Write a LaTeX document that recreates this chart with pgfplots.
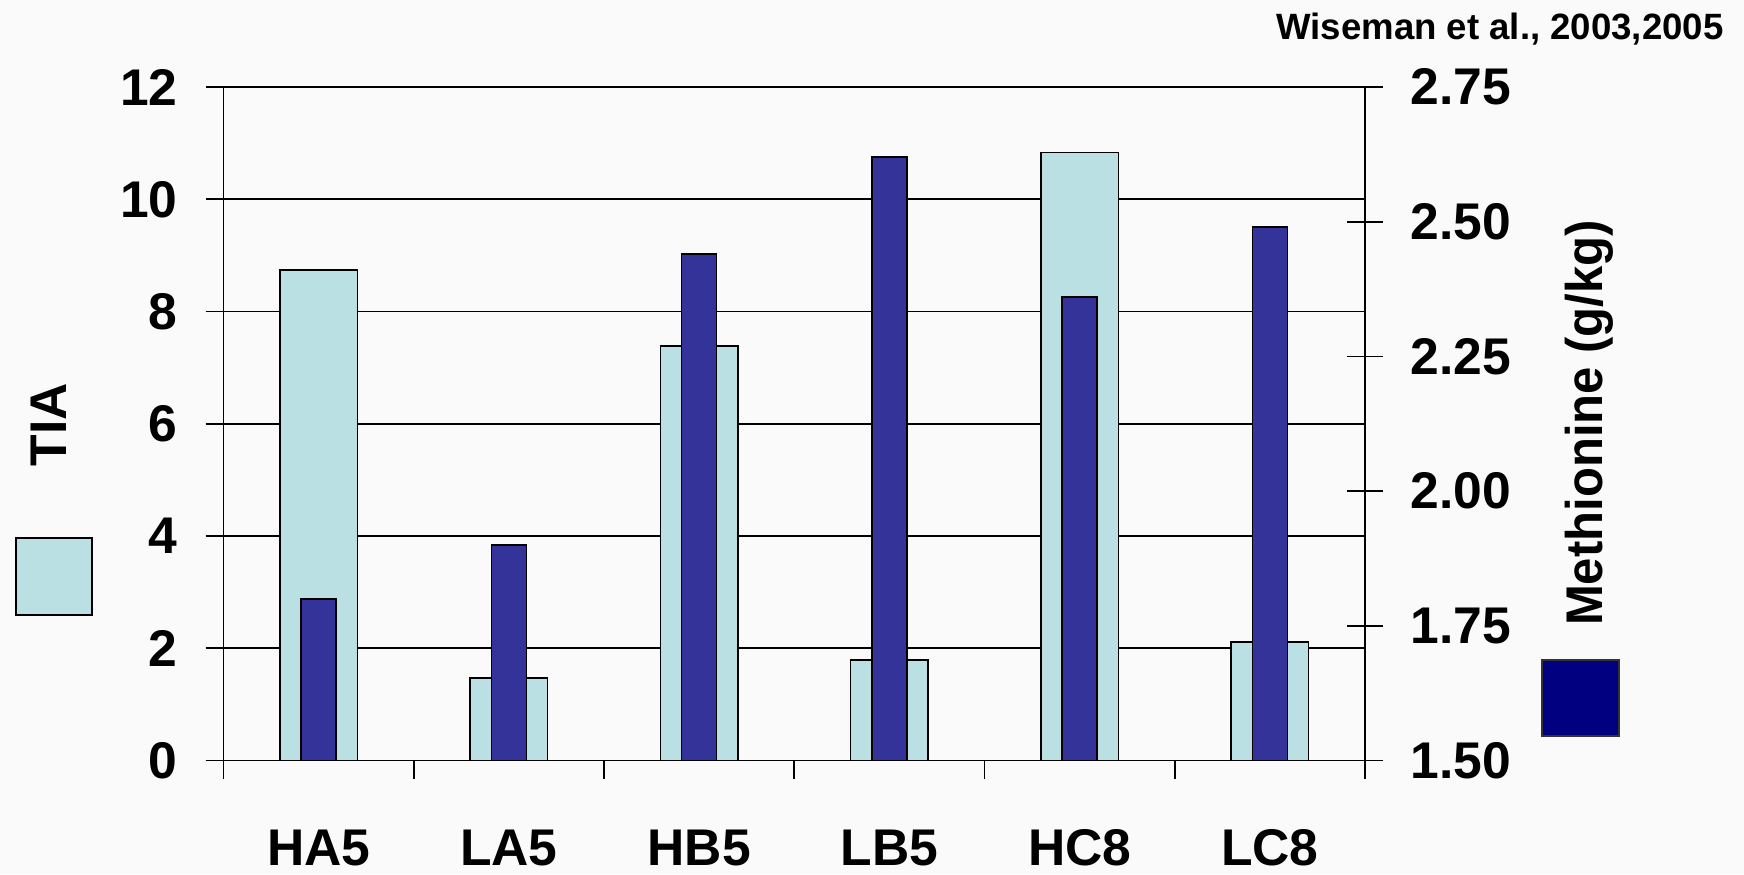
\documentclass[border=0pt]{standalone}
\usepackage{fontspec}
\setmainfont{Liberation Sans}
\usepackage{pgfplots}
\pgfplotsset{compat=1.18}
\definecolor{bg}{RGB}{250,250,250}
\definecolor{lightbar}{RGB}{187,224,227}
\definecolor{darkbar}{RGB}{51,51,153}
\definecolor{navybox}{RGB}{0,0,128}
\newcommand{\bigfont}{\fontsize{25.8}{30}\selectfont\bfseries}
\begin{document}
\begin{tikzpicture}
\path[fill=bg, use as bounding box] (-111.75pt,-56.75pt) rectangle (760.25pt,380.25pt);
\begin{axis}[
  at={(0pt,0pt)}, anchor=south west,
  scale only axis, width=570.75pt, height=336.75pt,
  xmin=-0.5, xmax=5.5, ymin=0, ymax=12,
  axis x line*=bottom, axis y line*=left,
  ybar, bar width=38.75pt, bar shift=0pt,
  ytick={0,2,4,6,8,10,12},
  ymajorgrids, grid style={black, line width=0.9pt},
  xtick={0,1,2,3,4,5},
  xticklabels={HA5,LA5,HB5,LB5,HC8,LC8},
  major x tick style={draw=none},
  minor xtick={-0.5,0.5,1.5,2.5,3.5,4.5,5.5},
  minor tick length=9pt, major tick length=9pt,
  tick align=outside,
  axis line style={black, line width=0.9pt, -},
  tick style={black, line width=0.9pt},
  ticklabel style={font=\bigfont},
  /pgf/number format/assume math mode=true,
  yticklabel style={anchor=east, inner sep=0pt, xshift=-13.75pt},
  xticklabel style={anchor=base, inner sep=0pt, yshift=-43.5pt},
]
\addplot[fill=lightbar, draw=black, line width=0.8pt] coordinates {
  (0,8.74) (1,1.47) (2,7.39) (3,1.79) (4,10.83) (5,2.11)};
\end{axis}
\begin{axis}[
  at={(0pt,0pt)}, anchor=south west,
  scale only axis, width=570.75pt, height=336.75pt,
  xmin=-0.5, xmax=5.5, ymin=1.5, ymax=2.75,
  axis x line=none, axis y line*=right,
  ybar, bar width=17.5pt, bar shift=0pt,
  ytick={1.5,1.75,2,2.25,2.5,2.75},
  tick align=center, major tick length=18pt,
  axis line style={black, line width=0.9pt, -},
  tick style={black, line width=0.9pt},
  ticklabel style={font=\bigfont},
  /pgf/number format/assume math mode=true,
  yticklabel style={anchor=west, inner sep=0pt, xshift=13.5pt,
    /pgf/number format/.cd, fixed, fixed zerofill, precision=2},
]
\addplot[fill=darkbar, draw=black, line width=0.8pt] coordinates {
  (0,1.80) (1,1.90) (2,2.44) (3,2.62) (4,2.36) (5,2.49)};
\end{axis}
\node[anchor=base, rotate=90, inner sep=0pt, font=\bigfont] at (-78.25pt,168pt) {TIA};
\node[anchor=base, rotate=90, inner sep=0pt, font=\bigfont] at (689.25pt,168.75pt) {\scalebox{0.95}[1]{Methionine (g/kg)}};
\draw[fill=lightbar, draw=black, line width=0.9pt] (-103.75pt,72.75pt) rectangle (-65.75pt,111.25pt);
\draw[fill=navybox, draw=black!80, line width=0.9pt] (659.25pt,12.25pt) rectangle (697.75pt,50.25pt);
\node[anchor=base east, inner sep=0pt, font=\fontsize{18.3}{22}\selectfont\bfseries] at (750.25pt,360.25pt) {Wiseman et al., 2003,2005};
\end{tikzpicture}
\end{document}
